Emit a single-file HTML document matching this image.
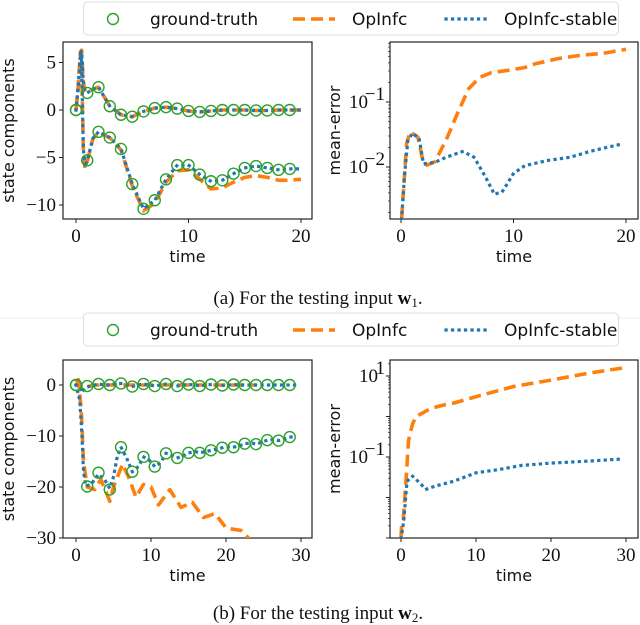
<!DOCTYPE html>
<html><head><meta charset="utf-8"><style>
html,body{margin:0;padding:0;background:#fff;}
svg{display:block;}
.tick{font-family:"Liberation Serif",serif;font-size:19px;fill:#111;}
.lab{font-family:"DejaVu Sans","Liberation Sans",sans-serif;font-size:16px;fill:#111;}
.leg{font-family:"DejaVu Sans","Liberation Sans",sans-serif;font-size:17px;fill:#111;}
.cap{font-family:"Liberation Serif",serif;font-size:19px;fill:#111;}
</style></head><body>
<svg id="fig" width="640" height="625" viewBox="0 0 640 625" xmlns="http://www.w3.org/2000/svg"></svg>
<script>
// ---- Data: panel (a) state components, t in [0,20]
const aCircT = [0,1,2,3,4,5,6,7,8,9,10,11,12,13,14,15,16,17,18,19];
const aTruth1 = [0,1.8,2.4,0.4,-0.5,-0.7,-0.15,0.2,0.3,0.15,-0.1,-0.2,-0.1,0,0,0,-0.05,-0.05,0,0];
const aTruth2 = [0,-5.3,-2.3,-2.9,-4.1,-7.8,-10.4,-9.5,-7.3,-5.8,-5.8,-6.8,-7.5,-7.4,-6.7,-6.1,-5.9,-6.1,-6.3,-6.2];
const aLineT = [0,0.2,0.4,0.5,0.65,0.8,1,1.5,2,3,4,5,6,7,8,9,10,11,12,13,14,15,16,17,18,19,20];
const aStable1 = [0,2.5,6,6.2,3,2,1.8,2.2,2.4,0.4,-0.5,-0.7,-0.15,0.2,0.3,0.15,-0.1,-0.2,-0.1,0,0,0,-0.05,-0.05,0,0,0];
const aStable2 = [0,2.5,6,5,-4,-6,-5.3,-3,-2.3,-2.9,-4.1,-7.8,-10.4,-9.5,-7.3,-5.8,-5.8,-6.8,-7.5,-7.4,-6.7,-6.1,-5.9,-6.1,-6.3,-6.2,-6.2];
const aOp1 = [0,2.5,6.1,6.3,3,2,1.8,2.2,2.4,0.4,-0.5,-0.7,-0.15,0.2,0.3,0.15,-0.1,-0.2,-0.1,0,0,0,-0.05,-0.05,0,0,0];
const aOp2 = [0,2.5,6.1,5,-4,-6.1,-5.4,-3,-2.4,-2.9,-4.2,-8,-10.6,-9.8,-7.6,-6.4,-6.3,-7.3,-8.3,-8.2,-7.6,-7.1,-6.9,-7.1,-7.4,-7.4,-7.3];
// ---- panel (a) mean-error (log10 values)
const aErrT = [0.05,0.3,0.5,0.8,1.5,2,2.3,3,4,5,6,7,8,10,11,12,14,16,18,20];
const aErrOp = [-2.8,-2.15,-1.64,-1.46,-1.54,-1.95,-1.97,-1.92,-1.59,-1.18,-0.8,-0.62,-0.55,-0.5,-0.47,-0.41,-0.33,-0.28,-0.25,-0.19];
const aErrStT = [0.05,0.3,0.6,1,1.6,2,3,4,5.5,6.5,7.5,8.3,9,10,11,13,15,17,19.5];
const aErrSt = [-2.8,-2.15,-1.6,-1.48,-1.55,-1.95,-1.93,-1.85,-1.76,-1.85,-2.15,-2.42,-2.38,-2.1,-1.98,-1.9,-1.85,-1.75,-1.65];
// ---- panel (b) state components, t in [0,30]
const bCircT = [0,1.5,3,4.5,6,7.5,9,10.5,12,13.5,15,16.5,18,19.5,21,22.5,24,25.5,27,28.5];
const bTruth1 = [0,-0.2,0.2,0,0.3,-0.3,0.2,-0.2,0.2,-0.2,0.1,-0.2,0.1,-0.1,0.1,0,0,0,0,0];
const bTruth2 = [0,-19.9,-17.2,-20.5,-12.2,-17,-14.1,-16,-13.4,-14.3,-13.3,-13.3,-12.8,-12.3,-12.2,-11.5,-11.6,-10.8,-10.9,-10.2];
const bStT = [0,0.5,0.8,1,1.3,2,3,3.8,4.5,5,5.5,6,6.8,7.5,8.3,9,9.8,10.5,11.3,12,12.8,13.5,14.3,15,16,16.5,17.5,18,19,19.5,20.5,21,22,22.5,23.5,24,25,25.5,26.5,27,28,28.5,29.5];
const bSt1 = [0,-0.5,-1.5,-1,-0.5,-0.2,0.2,0,0,0.2,0.3,0.3,0,-0.3,0,0.2,0,-0.2,0,0.2,0,-0.2,0,0.1,0,-0.2,0,0.1,0,-0.1,0,0.1,0,0,0,0,0,0,0,0,0,0,0];
const bSt2 = [0,-3,-10,-17,-19.8,-19.5,-17.5,-18.5,-20.3,-18,-14,-12.2,-14.5,-17,-16,-14.1,-14.8,-16,-15.2,-13.4,-13.8,-14.3,-13.9,-13.3,-13.1,-13.3,-13,-12.8,-12.5,-12.3,-12.1,-12.2,-11.8,-11.5,-11.4,-11.6,-11.1,-10.8,-10.7,-10.9,-10.5,-10.2,-10.2];
const bOpT = [0,0.3,0.7,1,1.5,2.5,3.3,4,4.5,5,6.2,7,8,9,10,11,12.5,14,15.5,17,18.5,20,21,22,23,24];
const bOp1 = [0.5,1,-0.5,-0.3,-0.3,0,0,0,0,0,0,0,0,0,0,0,0,0,0,0,0,0,0,0,0,0];
const bOp2 = [0.5,1,-5,-15,-20,-20.5,-18.5,-21,-22.8,-20,-15.5,-18,-22,-19.5,-20,-23.5,-20.5,-24,-23,-26,-25.2,-28,-28.3,-28.5,-30,-32];
// ---- panel (b) mean-error (log10)
const bErrT = [0,0.1,0.3,0.5,0.8,1,1.5,2,3,4,6,7,10,15,20,25,30];
const bErrOp = [-3,-2.6,-2.55,-2,-1.2,-0.6,-0.2,0,0.1,0.2,0.3,0.33,0.49,0.74,0.9,1.07,1.21];
const bErrStT = [0,0.2,0.4,0.6,0.8,1.5,2.5,3.3,4.5,7,10,13,16,20,25,29.5];
const bErrSt = [-3,-2.8,-2.5,-2.05,-1.6,-1.47,-1.64,-1.8,-1.72,-1.6,-1.39,-1.31,-1.21,-1.15,-1.1,-1.05];
const ticksA = [0,10,20], ticksB = [0,10,20,30];

const NS='http://www.w3.org/2000/svg';
const svg=document.getElementById('fig');
function mk(tag,attrs,parent){const e=document.createElementNS(NS,tag);for(const k in attrs)e.setAttribute(k,attrs[k]);(parent||svg).appendChild(e);return e;}
const ORANGE='#ff7f0e',BLUE='#1f77b4',GREEN='#2ca02c';

function panel(name,box,xmin,xmax,ymin,ymax){
  const g=mk('g',{});
  
  
  const cid='clip-'+name;
  const cp=mk('clipPath',{id:cid},g);mk('rect',{x:box.x0,y:box.y0,width:box.x1-box.x0,height:box.y1-box.y0},cp);
  return {g,box,
    sx:v=>box.px0+(v-xmin)/(xmax-xmin)*(box.px1-box.px0),
    sy:v=>box.py0+(v-ymin)/(ymax-ymin)*(box.py1-box.py0),
    clip:'url(#'+cid+')'};
}
function frame(p){
  const b=p.box;
  const r=mk('rect',{x:b.x0,y:b.y0,width:b.x1-b.x0,height:b.y1-b.y0,fill:'none',stroke:'#222','stroke-width':1.2},p.g);
  
  
}
function xticks(p,ticks){
  ticks.forEach(t=>{const x=p.sx(t);
    mk('line',{x1:x,x2:x,y1:p.box.y1,y2:p.box.y1+4,stroke:'#222'},p.g);
    const tx=mk('text',{x:x,y:p.box.y1+23,'text-anchor':'middle',class:'tick'},p.g);tx.textContent=t;
    
    });
}
function yticks(p,ticks){
  ticks.forEach(t=>{const y=p.sy(t);
    mk('line',{x1:p.box.x0-4,x2:p.box.x0,y1:y,y2:y,stroke:'#222'},p.g);
    const tx=mk('text',{x:p.box.x0-7,y:y+6,'text-anchor':'end',class:'tick'},p.g);tx.textContent=(t<0?'\u2212'+(-t):t);
    
    });
}
function logticks(p,decs,lo,hi){
  for(let d=Math.floor(lo);d<=Math.ceil(hi);d++){
    for(let m=1;m<10;m++){const v=d+Math.log10(m);if(v<lo||v>hi)continue;const y=p.sy(v);
      mk('line',{x1:p.box.x0-(m==1?4:2),x2:p.box.x0,y1:y,y2:y,stroke:'#222','stroke-width':m==1?1:0.7},p.g);}
  }
  decs.forEach(d=>{const y=p.sy(d);
    const tx=mk('text',{x:p.box.x0-(d<0?22:12),y:y+6,'text-anchor':'end',class:'tick'},p.g);tx.textContent='10';
    
    
    const sp=mk('text',{x:p.box.x0-5,y:y-2,'text-anchor':'end',class:'tick','font-size':'13px'},p.g);sp.textContent=(d<0?'\u2212'+(-d):d);
    
    });
}
function line(p,xs,ys,color,style,name){
  const d=xs.map((x,i)=>(i?'L':'M')+p.sx(x).toFixed(1)+','+p.sy(ys[i]).toFixed(1)).join('');
  const a={d,fill:'none',stroke:color,'clip-path':p.clip,'stroke-linejoin':'round'};
  if(style=='dash'){a['stroke-width']=3.6;a['stroke-dasharray']='12,6';}
  else{a['stroke-width']=3.2;a['stroke-dasharray']='0.1,6.4';a['stroke-linecap']='square';}
  const e=mk('path',a,p.g);
  
  
}
function circles(p,xs,ys,name){
  xs.forEach((x,i)=>{const c=mk('circle',{cx:p.sx(x),cy:p.sy(ys[i]),r:5.5,fill:'none',stroke:GREEN,'stroke-width':1.4,'clip-path':p.clip},p.g);
    
    });
}
function labels(p,ylab,ylx){
  const b=p.box;
  const t=mk('text',{x:(b.x0+b.x1)/2,y:b.y1+43,'text-anchor':'middle',class:'lab'},p.g);t.textContent='time';
  
  
  const cy=(b.y0+b.y1)/2;
  const y=mk('text',{x:ylx,y:cy,'text-anchor':'middle',class:'lab',transform:'rotate(-90 '+ylx+' '+cy+')'},p.g);y.textContent=ylab;
  
  
}
function legend(y0,name){
  const g=mk('g',{});
  
  
  mk('rect',{x:83.5,y:y0,width:535,height:33,rx:4,fill:'#fff',stroke:'#ddd','stroke-width':1},g);
  const cy=y0+17;
  mk('circle',{cx:113,cy:cy,r:5.5,fill:'none',stroke:GREEN,'stroke-width':1.4},g);
  let t=mk('text',{x:150,y:cy+6,class:'leg'},g);t.textContent='ground-truth';
  mk('line',{x1:293,x2:335,y1:cy,y2:cy,stroke:ORANGE,'stroke-width':3.6,'stroke-dasharray':'12,6'},g);
  t=mk('text',{x:352,y:cy+6,class:'leg'},g);t.textContent='OpInfc';
  mk('line',{x1:446,x2:486,y1:cy,y2:cy,stroke:BLUE,'stroke-width':3.2,'stroke-dasharray':'0.1,6.4','stroke-linecap':'square'},g);
  t=mk('text',{x:504,y:cy+6,class:'leg'},g);t.textContent='OpInfc-stable';
}
function caption(y,lbl,sub,name){
  const t=mk('text',{x:318,y:y,'text-anchor':'middle',class:'cap'});
  
  
  t.innerHTML='('+lbl+') For the testing input <tspan font-weight="bold">w</tspan><tspan font-size="13" dy="3">'+sub+'</tspan><tspan dy="-3">.</tspan>';
}

legend(2,'legend-a');
let p=panel('state-plot-a',{x0:63,x1:312,y0:42,y1:219,px0:76,px1:301,py0:110,py1:205},0,20,0,-10);
frame(p);xticks(p,ticksA);yticks(p,[5,0,-5,-10]);labels(p,'state components',14);
line(p,aLineT,aOp1,ORANGE,'dash','opinfc-line-1');line(p,aLineT,aOp2,ORANGE,'dash','opinfc-line-2');
line(p,aLineT,aStable1,BLUE,'dot','stable-line-1');line(p,aLineT,aStable2,BLUE,'dot','stable-line-2');
circles(p,aCircT,aTruth1,'truth-marker-1');circles(p,aCircT,aTruth2,'truth-marker-2');
p=panel('error-plot-a',{x0:390,x1:638,y0:42,y1:219,px0:401,px1:626,py0:102,py1:167},0,20,-1,-2);
frame(p);xticks(p,ticksA);logticks(p,[-1,-2],-2.8,-0.077);labels(p,'mean-error',340);
line(p,aErrT,aErrOp,ORANGE,'dash','opinfc-error');line(p,aErrStT,aErrSt,BLUE,'dot','stable-error');
caption(304,'a','1','caption-a');
mk('line',{x1:0,x2:640,y1:318,y2:318,stroke:'#eee','stroke-width':1});

legend(313,'legend-b');
p=panel('state-plot-b',{x0:63,x1:312,y0:360,y1:538,px0:76,px1:301,py0:385,py1:436},0,30,0,-10);
frame(p);xticks(p,ticksB);yticks(p,[0,-10,-20,-30]);labels(p,'state components',14);
line(p,bOpT,bOp1,ORANGE,'dash','opinfc-line-1');line(p,bOpT,bOp2,ORANGE,'dash','opinfc-line-2');
line(p,bStT,bSt1,BLUE,'dot','stable-line-1');line(p,bStT,bSt2,BLUE,'dot','stable-line-2');
circles(p,bCircT,bTruth1,'truth-marker-1');circles(p,bCircT,bTruth2,'truth-marker-2');
p=panel('error-plot-b',{x0:390,x1:638,y0:360,y1:538,px0:401,px1:626,py0:376,py1:457},0,30,1,-1);
frame(p);xticks(p,ticksB);logticks(p,[1,-1],-3,1.39);labels(p,'mean-error',340);
line(p,bErrT,bErrOp,ORANGE,'dash','opinfc-error');line(p,bErrStT,bErrSt,BLUE,'dot','stable-error');
caption(619,'b','2','caption-b');
</script>
</body></html>
